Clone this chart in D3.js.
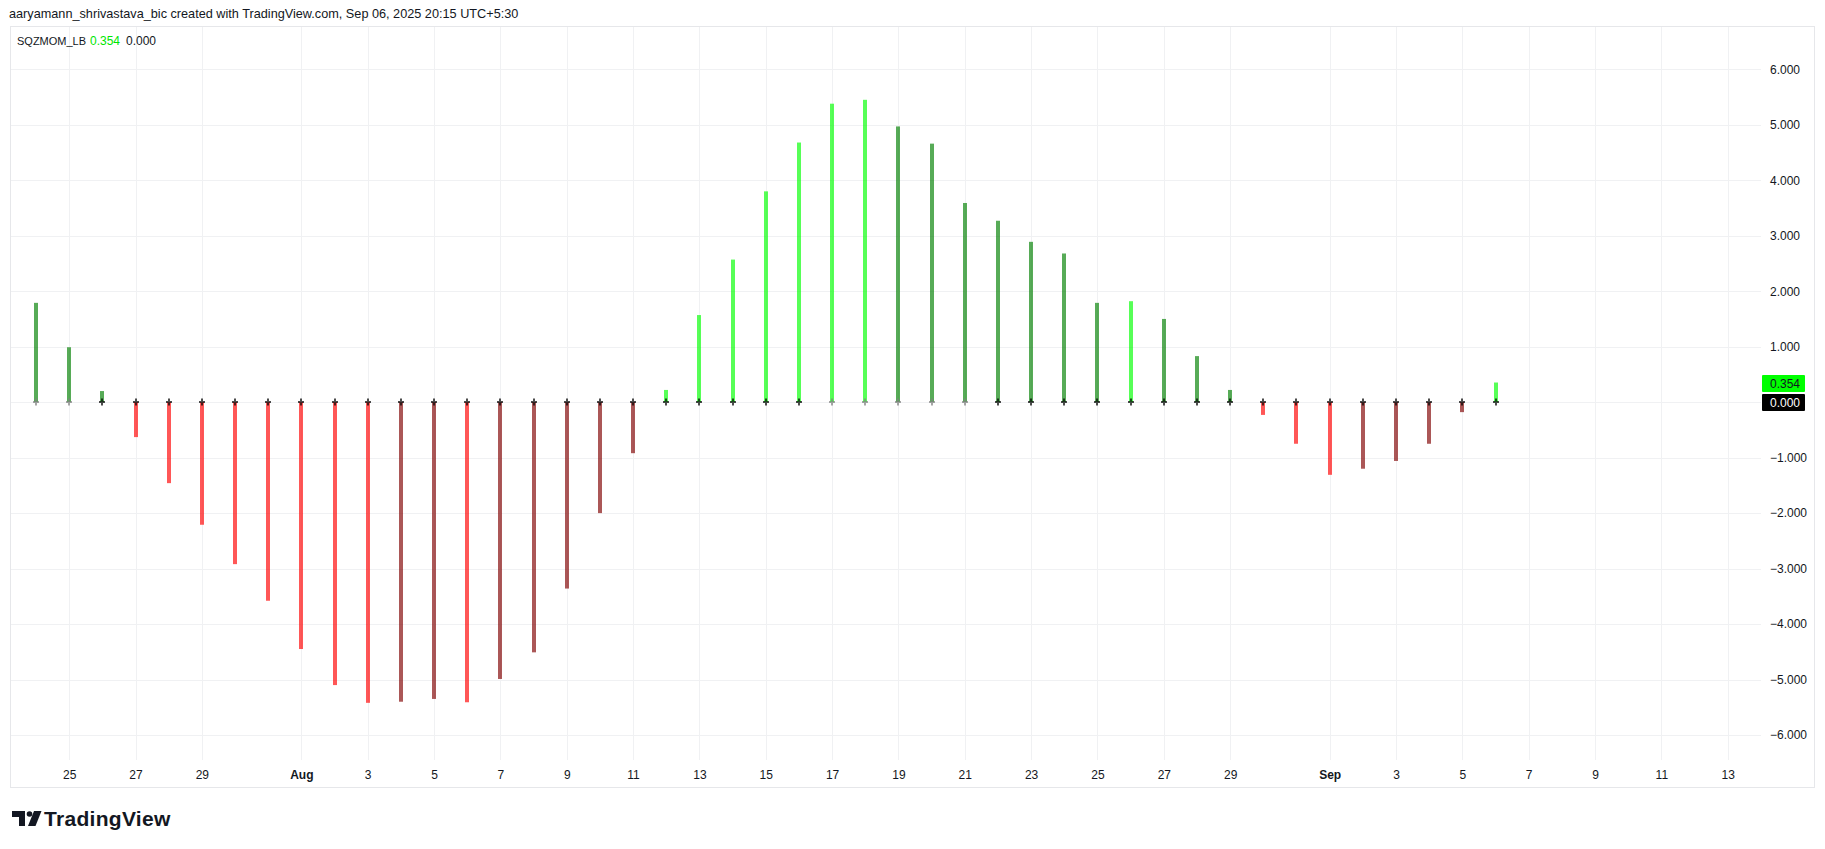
<!DOCTYPE html>
<html><head><meta charset="utf-8">
<script src="https://cdn.jsdelivr.net/npm/d3@7"></script>
<style>
body{margin:0;background:#fff}
svg{display:block;font-family:"Liberation Sans",Arial,sans-serif}
</style>
</head><body>
<svg id="c" width="1825" height="849"></svg>
<script>
// ---------- data ----------
const dates = [
 "2025-07-24","2025-07-25","2025-07-26","2025-07-27","2025-07-28","2025-07-29","2025-07-30","2025-07-31",
 "2025-08-01","2025-08-02","2025-08-03","2025-08-04","2025-08-05","2025-08-06","2025-08-07","2025-08-08",
 "2025-08-09","2025-08-10","2025-08-11","2025-08-12","2025-08-13","2025-08-14","2025-08-15","2025-08-16",
 "2025-08-17","2025-08-18","2025-08-19","2025-08-20","2025-08-21","2025-08-22","2025-08-23","2025-08-24",
 "2025-08-25","2025-08-26","2025-08-27","2025-08-28","2025-08-29","2025-08-30","2025-08-31",
 "2025-09-01","2025-09-02","2025-09-03","2025-09-04","2025-09-05","2025-09-06"
];
const momentum = [
 1.79, 0.99, 0.20, -0.63, -1.46, -2.21, -2.92, -3.58,
 -4.45, -5.10, -5.42, -5.40, -5.35, -5.41, -4.99, -4.51,
 -3.36, -2.00, -0.92, 0.22, 1.57, 2.57, 3.80, 4.68,
 5.38, 5.45, 4.97, 4.66, 3.59, 3.27, 2.89, 2.68,
 1.79, 1.82, 1.50, 0.83, 0.22, -0.23, -0.75,
 -1.31, -1.20, -1.06, -0.75, -0.18, 0.354
];
// squeeze state per bar: "on" = black cross, "off" = gray cross
const squeeze = [
 "off","off","on","on","on","on","on","on",
 "on","on","on","on","on","on","on","on",
 "on","on","on","on","on","on","on","on",
 "off","off","off","off","off","on","on","on",
 "on","on","on","on","on","on","on",
 "on","on","on","on","on","on"
];
const tickDates = [
 "2025-07-25","2025-07-27","2025-07-29","2025-08-01","2025-08-03","2025-08-05","2025-08-07","2025-08-09",
 "2025-08-11","2025-08-13","2025-08-15","2025-08-17","2025-08-19","2025-08-21","2025-08-23","2025-08-25",
 "2025-08-27","2025-08-29","2025-09-01","2025-09-03","2025-09-05","2025-09-07","2025-09-09","2025-09-11","2025-09-13"
];
const tickLabels = [
 "25","27","29","Aug","3","5","7","9",
 "11","13","15","17","19","21","23","25",
 "27","29","Sep","3","5","7","9","11","13"
];
const priceTicks = [-6,-5,-4,-3,-2,-1,0,1,2,3,4,5,6];
const lastValue = 0.354;
const zeroValue = 0;

// ---------- setup ----------
const parse = d3.utcParse("%Y-%m-%d");
const svg = d3.select("#c");
const paneL = 10, paneR = 1761, paneT = 26, paneB = 760, frameR = 1815, frameB = 788;

const x = d3.scaleUtc()
  .domain([parse("2025-07-24"), parse("2025-09-13")])
  .range([36, 1727.7]);
const y = d3.scaleLinear().domain([-6, 6]).range([735, 69.3]);

// frame
svg.append("rect").attr("x", paneL + 0.5).attr("y", paneT + 0.5)
  .attr("width", frameR - paneL - 1).attr("height", frameB - paneT - 1)
  .attr("fill", "none").attr("stroke", "#e6e7ea").attr("stroke-width", 1);

// grid
const grid = svg.append("g");
grid.selectAll("line.h").data(priceTicks).join("line")
  .attr("x1", paneL + 1).attr("x2", paneR)
  .attr("y1", d => Math.round(y(d)) + 0.5).attr("y2", d => Math.round(y(d)) + 0.5)
  .attr("stroke", "#f0f1f3");
grid.selectAll("line.v").data(tickDates).join("line")
  .attr("y1", paneT + 1).attr("y2", paneB)
  .attr("x1", d => Math.round(x(parse(d))) + 0.5).attr("x2", d => Math.round(x(parse(d))) + 0.5)
  .attr("stroke", "#f0f1f3");

// bars
const palette = {lime: "#00ff00", green: "#008000", red: "#ff0000", maroon: "#800000"};
function barColor(i) {
  const v = momentum[i];
  const prev = i > 0 ? momentum[i - 1] : (v > 0 ? Infinity : -Infinity);
  if (v > 0) return v > prev ? palette.lime : palette.green;
  return v < prev ? palette.red : palette.maroon;
}
svg.append("g").selectAll("rect").data(momentum).join("rect")
  .attr("x", (d, i) => Math.round(x(parse(dates[i]))) - 2)
  .attr("width", 4)
  .attr("y", d => y(Math.max(d, 0)))
  .attr("height", d => Math.abs(y(d) - y(0)))
  .attr("fill", (d, i) => barColor(i))
  .attr("fill-opacity", 0.66);

// zero-line crosses
svg.append("g").selectAll("path").data(dates).join("path")
  .attr("d", d => {
    const cx = Math.round(x(parse(d))), cy = Math.round(y(0));
    return `M${cx - 3},${cy}H${cx + 3}M${cx},${cy - 3.5}V${cy + 3.5}`;
  })
  .attr("fill", "none")
  .attr("stroke", (d, i) => squeeze[i] === "on" ? "#000" : "#808080")
  .attr("stroke-opacity", 0.7)
  .attr("stroke-width", 2);

// axes
const xAxis = svg.append("g").attr("transform", `translate(0,${paneB})`)
  .call(d3.axisBottom(x).tickValues(tickDates.map(parse)).tickFormat((d, i) => tickLabels[i]).tickSize(0).tickPadding(10));
xAxis.select(".domain").remove();
xAxis.selectAll("text").attr("font-size", 12).attr("fill", "#131722")
  .attr("font-family", "Liberation Sans, Arial, sans-serif")
  .attr("font-weight", (d, i) => isNaN(+tickLabels[i]) ? "bold" : "normal");

const yAxis = svg.append("g").attr("transform", `translate(1770,0)`)
  .call(d3.axisRight(y).tickValues(priceTicks).tickFormat(d3.format(".3f")).tickSize(0).tickPadding(0));
yAxis.select(".domain").remove();
yAxis.selectAll("text").attr("font-size", 12).attr("fill", "#131722")
  .attr("font-family", "Liberation Sans, Arial, sans-serif");

// price labels
function priceTag(v, bg, fg) {
  const cy = y(v);
  svg.append("rect").attr("x", 1762).attr("y", Math.round(cy) - 8).attr("width", 43).attr("height", 17)
    .attr("rx", 1).attr("fill", bg);
  svg.append("text").attr("x", 1770).attr("y", Math.round(cy) + 0.5).attr("dy", "0.35em")
    .attr("font-size", 12).attr("fill", fg).text(d3.format(".3f")(v));
}
priceTag(lastValue, "#00ff00", "#131722");
priceTag(zeroValue, "#000000", "#ffffff");

// header
svg.append("text").attr("x", 9).attr("y", 18).attr("font-size", 12.7).attr("fill", "#131722")
  .text("aaryamann_shrivastava_bic created with TradingView.com, Sep 06, 2025 20:15 UTC+5:30");
const leg = svg.append("text").attr("y", 45).attr("fill", "#131722");
leg.append("tspan").attr("x", 17).attr("font-size", 11).text("SQZMOM_LB");
leg.append("tspan").attr("x", 90).attr("font-size", 12).attr("fill", "#00e600").text(d3.format(".3f")(lastValue));
leg.append("tspan").attr("x", 126).attr("font-size", 12).attr("fill", "#131722").text(d3.format(".3f")(zeroValue));

// TradingView logo
const logo = svg.append("g").attr("fill", "#131722");
logo.append("path").attr("d", "M12,811 H25 V826 H19 V817 H12 Z");
logo.append("circle").attr("cx", 29.5).attr("cy", 814).attr("r", 2.8);
logo.append("path").attr("d", "M34,811 H41.5 L35.5,826 H28 Z");
svg.append("text").attr("x", 44).attr("y", 826).attr("font-size", 21).attr("font-weight", "bold")
  .attr("letter-spacing", 0.3).attr("fill", "#131722").text("TradingView");
</script>
</body></html>
